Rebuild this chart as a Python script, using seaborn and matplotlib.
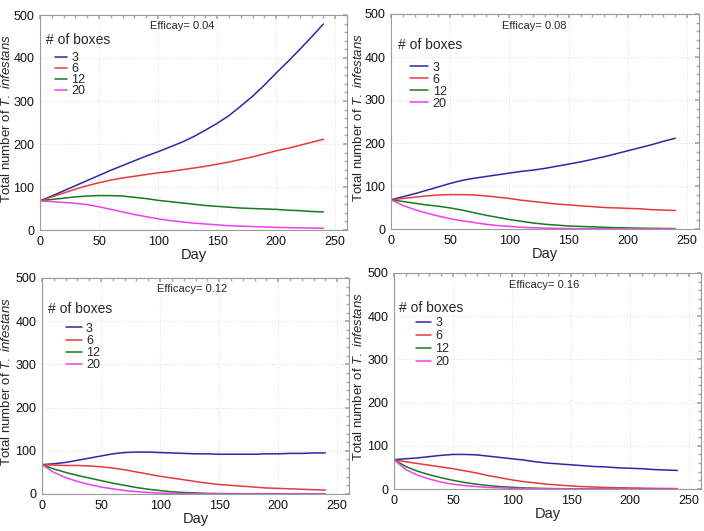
import pandas as pd
import seaborn as sns
import matplotlib.pyplot as plt
from matplotlib.ticker import MultipleLocator

days = [0, 10, 20, 30, 40, 50, 60, 70, 80, 90, 100, 110, 120,
        130, 140, 150, 160, 170, 180, 190, 200, 210, 220, 230, 240]

boxes = ['3', '6', '12', '20']
colors = ['#2a2aa6', '#e8383c', '#167a1e', '#ee40ee']

# Efficay = 0.04
e04_b3 = [68, 79, 91, 103, 115, 127, 139, 150, 161, 172, 182, 193, 204,
          217, 232, 248, 266, 288, 311, 337, 365, 392, 420, 449, 479]
e04_b6 = [68, 77, 86, 95, 103, 110, 116, 121, 125, 129, 133, 136, 140,
          144, 148, 153, 158, 164, 170, 177, 184, 190, 197, 204, 211]
e04_b12 = [68, 71, 74, 77, 79, 80, 80, 79, 76, 73, 69, 66, 63,
           60, 57, 55, 53, 51, 50, 49, 48, 46, 45, 43, 42]
e04_b20 = [68, 66, 64, 62, 59, 54, 48, 42, 36, 31, 26, 22, 19,
           16, 14, 12, 10, 9, 8, 7, 6, 5.5, 5, 4.5, 4]

# Efficay = 0.08
e08_b3 = [68, 75, 82, 90, 98, 106, 113, 118, 122, 126, 130, 134, 137,
          141, 146, 151, 156, 162, 168, 175, 182, 189, 196, 204, 211]
e08_b6 = [68, 71, 74, 77, 79, 80, 80, 79, 77, 74, 71, 67, 64,
          61, 58, 56, 54, 52, 50, 49, 48, 47, 45, 44, 43]
e08_b12 = [68, 64, 60, 56, 53, 49, 44, 38, 32, 27, 22, 18, 14,
           11, 9, 7, 6, 5, 4, 3, 2.5, 2, 1.5, 1.2, 1]
e08_b20 = [68, 55, 45, 37, 30, 24, 19, 15, 11, 8, 6, 4, 3,
           2, 1.5, 1, 0.7, 0.5, 0.4, 0.3, 0.2, 0.2, 0.1, 0.1, 0.1]

# Efficacy = 0.12
e12_b3 = [68, 70, 73, 78, 83, 88, 93, 96, 97, 97, 96, 95, 94,
          93, 93, 92, 92, 92, 92, 93, 93, 94, 94, 95, 95]
e12_b6 = [68, 67, 66, 66, 65, 63, 60, 56, 51, 46, 41, 37, 33,
          29, 25, 22, 20, 18, 16, 14, 13, 12, 11, 10, 9]
e12_b12 = [68, 58, 50, 43, 37, 31, 25, 20, 15, 11, 8, 5, 3.5,
           2.5, 1.5, 1, 0.7, 0.5, 0.3, 0.2, 0.1, 0.1, 0.1, 0.1, 0.1]
e12_b20 = [68, 50, 38, 29, 22, 16, 12, 8, 5.5, 3.5, 2, 1.3, 0.8,
           0.5, 0.3, 0.2, 0.1, 0.1, 0, 0, 0, 0, 0, 0, 0]

# Efficacy = 0.16
e16_b3 = [68, 70, 72, 75, 78, 80, 80, 79, 76, 73, 70, 67, 63,
          60, 58, 56, 54, 52, 51, 49, 48, 47, 45, 44, 43]
e16_b6 = [68, 63, 59, 55, 51, 47, 42, 37, 31, 26, 21, 17, 14,
          11, 9, 7, 5.5, 4.5, 3.5, 3, 2.5, 2, 1.5, 1.2, 1]
e16_b12 = [68, 52, 41, 33, 26, 20, 15, 11, 8, 5.5, 4, 2.5, 1.8,
           1.2, 0.8, 0.5, 0.3, 0.2, 0.1, 0.1, 0.1, 0.1, 0.1, 0.1, 0.1]
e16_b20 = [68, 45, 32, 23, 16, 11, 8, 5.5, 3.5, 2.5, 1.5, 1, 0.6,
           0.4, 0.2, 0.1, 0.1, 0.1, 0, 0, 0, 0, 0, 0, 0]

panels = [
    ('Efficay= 0.04', [e04_b3, e04_b6, e04_b12, e04_b20]),
    ('Efficay= 0.08', [e08_b3, e08_b6, e08_b12, e08_b20]),
    ('Efficacy= 0.12', [e12_b3, e12_b6, e12_b12, e12_b20]),
    ('Efficacy= 0.16', [e16_b3, e16_b6, e16_b12, e16_b20]),
]

# layout per panel: axes box in pixels (left, top, right, bottom) on a 704x531 figure
W, H = 704, 531
rects = [(40, 15, 347, 230), (391, 14, 699, 229), (42, 278, 349, 494), (394, 273, 701, 489)]
title_xy = [(0.463, 0.949), (0.465, 0.944), (0.488, 0.949), (0.489, 0.944)]
boxes_xy = [(0.02, 0.884), (0.023, 0.856), (0.02, 0.856), (0.016, 0.838)]
ylab_x = [-0.088, -0.084, -0.094, -0.094]
leg_anchor = [(0.049, 0.826), (0.062, 0.778), (0.078, 0.793), (0.072, 0.794)]
leg_spacing = [-0.08, 0.0, 0.02, 0.07]
leg_handlen = [0.95, 1.45, 1.25, 1.2]

sns.set_theme(style='white')
plt.rcParams['font.family'] = ['Liberation Sans', 'DejaVu Sans']
plt.rcParams['mathtext.fontset'] = 'custom'
plt.rcParams['mathtext.it'] = 'Liberation Sans:italic'
plt.rcParams['mathtext.rm'] = 'Liberation Sans'

fig = plt.figure(figsize=(W / 100, H / 100), dpi=100)

for i, (title, series) in enumerate(panels):
    l, t, r, b = rects[i]
    ax = fig.add_axes([l / W, 1 - b / H, (r - l) / W, (b - t) / H])
    rows = []
    for name, vals in zip(boxes, series):
        for d, v in zip(days, vals):
            rows.append({'Day': d, 'Total': v, 'boxes': name})
    df = pd.DataFrame(rows)
    sns.lineplot(data=df, x='Day', y='Total', hue='boxes', palette=colors,
                 hue_order=boxes, linewidth=1.1, ax=ax)

    ax.set_xlim(0, 260)
    ax.set_ylim(0, 500)
    ax.xaxis.set_major_locator(MultipleLocator(50))
    ax.yaxis.set_major_locator(MultipleLocator(100))
    ax.xaxis.set_minor_locator(MultipleLocator(10))
    ax.yaxis.set_minor_locator(MultipleLocator(20))
    ax.grid(True, which='major', color='#e2e2e2', linestyle=':', linewidth=0.8)
    ax.tick_params(which='both', direction='in', top=True, right=True,
                   color='#a8a8a8', labelsize=9, pad=4, labelcolor='#111111')
    ax.tick_params(which='major', length=3)
    ax.tick_params(which='minor', length=2)
    for s in ax.spines.values():
        s.set_color('#9a9a9a')
        s.set_linewidth(0.8)
    ax.set_xlabel('Day', fontsize=10.5, labelpad=0)
    ax.set_ylabel('Total number of $\\it{T.\\ infestans}$', fontsize=9.5)
    ax.yaxis.set_label_coords(ylab_x[i], 0.52)
    ax.text(title_xy[i][0], title_xy[i][1], title, transform=ax.transAxes,
            ha='center', va='center', fontsize=8)
    ax.text(boxes_xy[i][0], boxes_xy[i][1], '# of boxes', transform=ax.transAxes,
            ha='left', va='center', fontsize=10)

    handles, labels = ax.get_legend_handles_labels()
    ax.legend(handles, labels, loc='upper left', bbox_to_anchor=leg_anchor[i],
              frameon=False, fontsize=9, handlelength=leg_handlen[i],
              labelspacing=leg_spacing[i], handletextpad=0.35,
              borderpad=0, borderaxespad=0)

fig.savefig('out.png', dpi=100)
